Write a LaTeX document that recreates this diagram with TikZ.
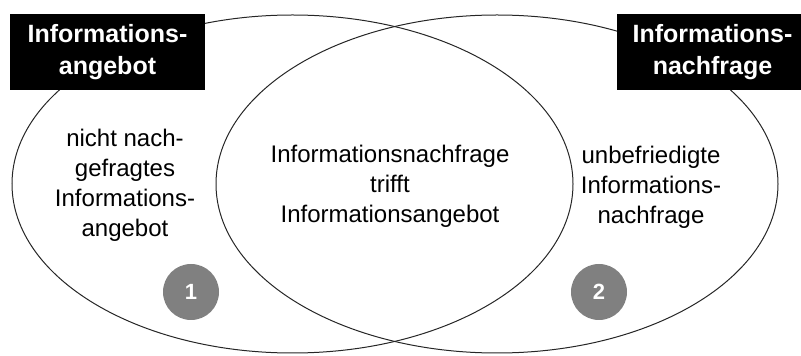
\documentclass[tikz,border=0pt]{standalone}
\usepackage{fontspec}
\setmainfont{Liberation Sans}

\begin{document}
\begin{tikzpicture}[x=1pt,y=1pt,
      titel/.style={fill=black,text=white,align=center,inner sep=0pt,
         minimum height=76pt,font=\bfseries\fontsize{25}{32}\selectfont},
      menge/.style={align=center,font=\fontsize{24}{30}\selectfont},
      nummer/.style={circle,fill=black!50,text=white,inner sep=0pt,
         minimum size=56pt,font=\bfseries\fontsize{22}{22}\selectfont}]
         \useasboundingbox (0,0) rectangle (801,356) ;
         % die beiden Ellipsen
         \draw[line width=1pt,black!85] (292.5,172) ellipse [x radius=280.5,y radius=169] ;
         \draw[line width=1pt,black!85] (497,172) ellipse [x radius=281,y radius=169] ;
         % Kopfzeilen
         \node[titel,minimum width=195pt] (angebot) at (107.5,304) {Informations-\\angebot} ;
         \node[titel,minimum width=192pt] (nachfrage) at (712.5,304) {Informations-\\nachfrage} ;
         % Inhalte der drei Felder
         \node[menge] (links) at (125,171) {nicht nach-\\gefragtes\\Informations-\\angebot} ;
         \node[menge] (mitte) at (390,170) {Informationsnachfrage\\trifft\\Informationsangebot} ;
         \node[menge] (rechts) at (651,169) {unbefriedigte\\Informations-\\nachfrage} ;
         % Nummern
         \node[nummer] (eins) at (191,64) {1} ;
         \node[nummer] (zwei) at (599,64) {2} ;
      \end{tikzpicture}
\end{document}
